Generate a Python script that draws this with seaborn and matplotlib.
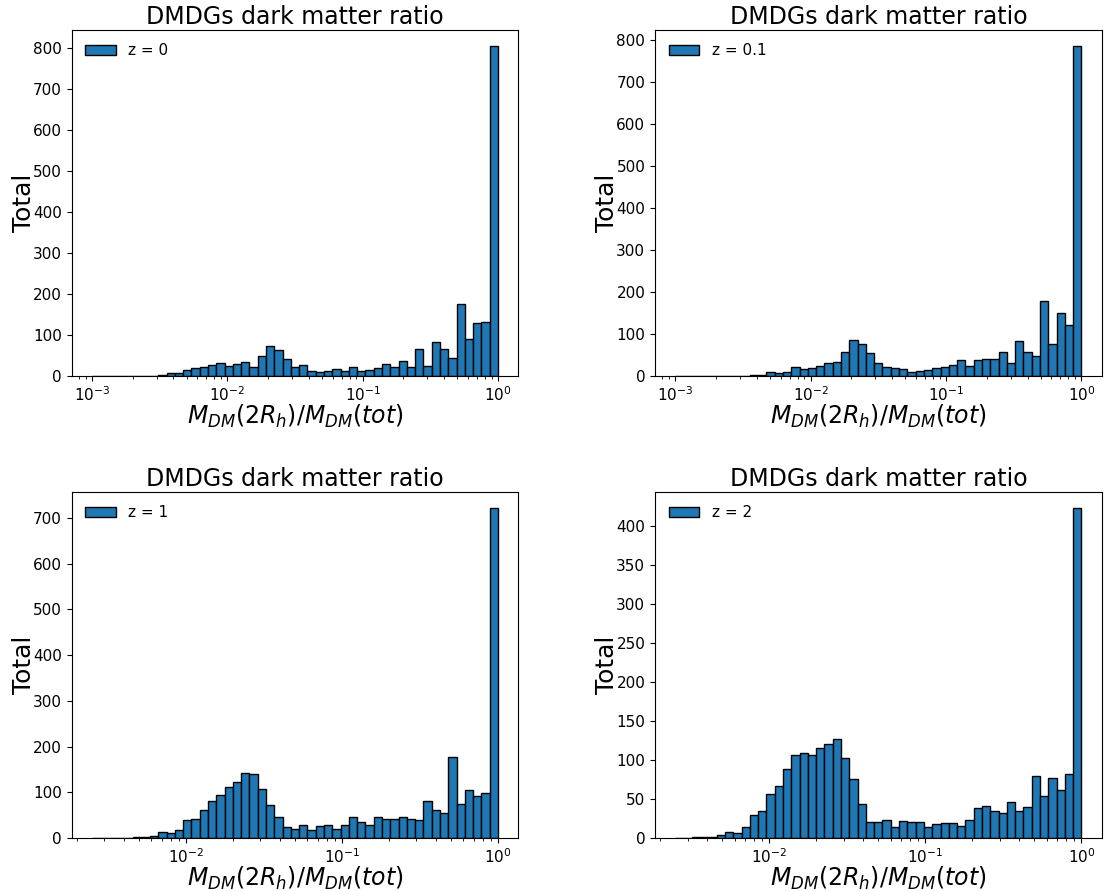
import numpy as np
import matplotlib
matplotlib.use("Agg")
import matplotlib.pyplot as plt
import seaborn as sns

# Redshift snapshots shown in each panel
redshifts = ["0", "0.1", "1", "2"]

# Lower edge of the logarithmic binning (upper edge is 1) for each snapshot
bin_low = [1e-3, 1e-3, 2.5e-3, 2.5e-3]
n_bins = 49

# Galaxy counts per log-spaced bin of M_DM(2R_h)/M_DM(tot)
counts_z0 = [0, 1, 0, 0, 0, 1, 1, 1, 3, 7, 7, 15, 19, 21, 28, 31, 25, 29, 33, 23,
             50, 72, 64, 42, 22, 28, 13, 10, 12, 17, 11, 22, 12, 15, 20, 29, 23, 36,
             21, 65, 25, 83, 65, 43, 175, 90, 129, 132, 805]
counts_z01 = [0, 0, 0, 0, 0, 0, 1, 1, 0, 2, 3, 10, 7, 10, 21, 16, 19, 25, 32, 33,
              58, 86, 76, 54, 32, 21, 19, 17, 9, 11, 14, 19, 22, 27, 37, 23, 37, 41,
              41, 56, 31, 84, 57, 48, 179, 77, 150, 122, 786]
counts_z1 = [0, 0, 0, 0, 1, 2, 2, 4, 13, 11, 18, 40, 42, 62, 81, 93, 111, 123, 142,
             139, 107, 72, 45, 25, 20, 29, 18, 27, 29, 20, 28, 45, 35, 28, 47, 41, 42,
             47, 41, 39, 81, 61, 55, 177, 74, 106, 92, 99, 722]
counts_z2 = [0, 0, 1, 1, 1, 4, 8, 7, 14, 29, 34, 56, 67, 89, 106, 109, 107, 115, 121,
             127, 103, 75, 43, 20, 21, 23, 14, 22, 20, 20, 14, 18, 19, 19, 16, 23, 39,
             41, 35, 32, 46, 34, 40, 79, 54, 77, 61, 82, 423]
all_counts = [counts_z0, counts_z01, counts_z1, counts_z2]

fig = plt.figure(figsize=(11.05, 8.91), dpi=100)
W, H = 1105.0, 891.0
# axes boxes in pixels: left, top, right, bottom
boxes = [(71.7, 29.5, 518.3, 376.0), (655.0, 29.5, 1101.7, 376.0),
         (71.7, 491.5, 518.3, 838.0), (655.0, 491.5, 1101.7, 838.0)]

for (l, t, r, b), z, lo, counts in zip(boxes, redshifts, bin_low, all_counts):
    ax = fig.add_axes([l / W, 1 - b / H, (r - l) / W, (b - t) / H])
    edges = np.logspace(np.log10(lo), 0, n_bins + 1)
    centers = np.sqrt(edges[:-1] * edges[1:])
    sns.histplot(x=centers, weights=counts, bins=n_bins,
                 binrange=(np.log10(lo), 0), log_scale=True,
                 color="#1f77b4", alpha=1, edgecolor="black", linewidth=1,
                 label=f"z = {z}", ax=ax)
    ax.set_title("DMDGs dark matter ratio", fontsize=17, pad=4)
    ax.set_xlabel(r"$M_{DM}(2R_h)/M_{DM}(tot)$", fontsize=17, labelpad=-1)
    ax.set_ylabel("Total", fontsize=18, labelpad=-2)
    ax.tick_params(labelsize=11)
    ax.legend(loc="upper left", frameon=False, fontsize=11)

fig.savefig("out.png", dpi=100)
